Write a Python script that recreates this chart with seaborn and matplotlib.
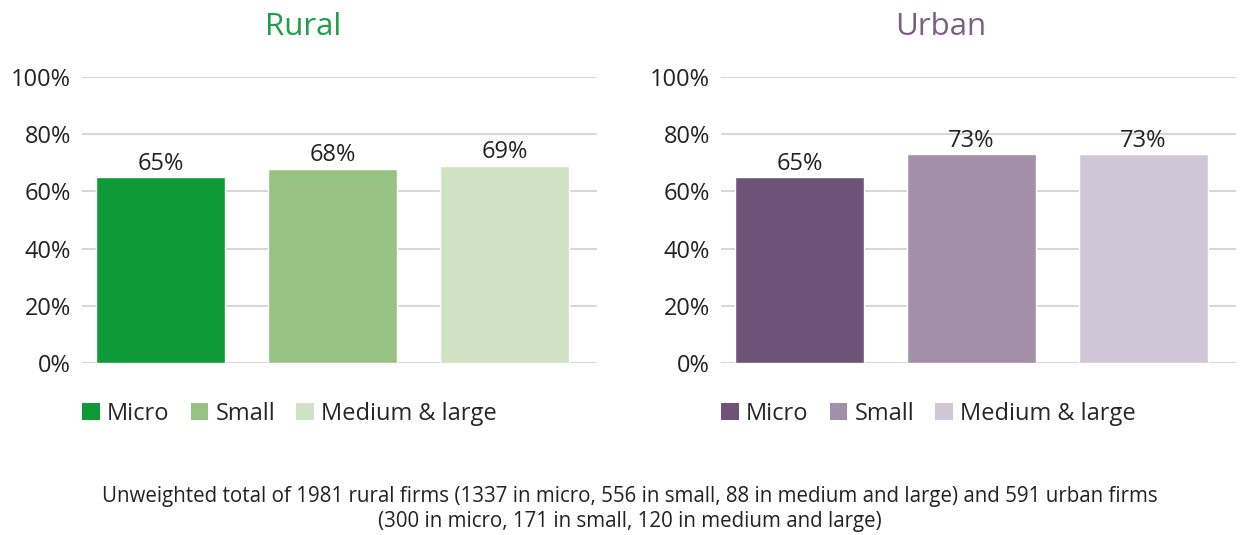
import matplotlib
matplotlib.use("Agg")
import matplotlib.pyplot as plt
import seaborn as sns
import pandas as pd
from matplotlib.patches import Patch

categories = ["Micro", "Small", "Medium & large"]
rural_values = [65, 68, 69]
urban_values = [65, 73, 73]
rural_colors = ["#0E9A37", "#96C384", "#CFE2C3"]
urban_colors = ["#6F5277", "#A48FA8", "#D1C6D5"]
yticks = [0, 20, 40, 60, 80, 100]
footnote = ("Unweighted total of 1981 rural firms (1337 in micro, 556 in small, 88 in medium and large) and 591 urban firms\n"
            "(300 in micro, 171 in small, 120 in medium and large)")

sns.set_theme(style="white")
plt.rcParams["font.family"] = ["Open Sans", "DejaVu Sans"]

fig = plt.figure(figsize=(12.49, 5.35), dpi=100)
W, H = 1249, 535

def make_axes(x0, x1):
    return fig.add_axes([x0 / W, (H - 363) / H, (x1 - x0) / W, (363 - 77) / H])

panels = [
    ("Rural", "#1CA04A", 303, rural_values, rural_colors, make_axes(82, 597)),
    ("Urban", "#7A5F83", 941, urban_values, urban_colors, make_axes(721, 1236)),
]

for title, tcolor, tx, vals, cols, ax in panels:
    df = pd.DataFrame({"cat": categories, "val": vals})
    sns.barplot(data=df, x="cat", y="val", hue="cat", palette=cols, width=0.75,
                dodge=False, legend=False, ax=ax, saturation=1)
    ax.set_ylim(0, 100)
    ax.set_xlim(-0.456, 2.538)
    ax.set_yticks(yticks)
    ax.set_yticklabels([f"{t}%" for t in yticks], fontsize=17, color="#222222")
    ax.tick_params(axis="y", length=0, pad=8)
    ax.set_xticks([])
    ax.set_xlabel("")
    ax.set_ylabel("")
    for s in ax.spines.values():
        s.set_visible(False)
    ax.grid(axis="y", color="#D0D0D0", linewidth=1.2)
    ax.set_axisbelow(True)
    for cont in ax.containers:
        ax.bar_label(cont, labels=[f"{v:.0f}%" for v in cont.datavalues],
                     padding=1, fontsize=17, color="#222222")
    fig.text(tx / W, 1 - 27 / H, title, color=tcolor, fontsize=22.5,
             ha="center", va="center")
    handles = [Patch(facecolor=c, edgecolor="none") for c in cols]
    ax.legend(handles, categories, ncol=3, frameon=False, fontsize=17,
              loc="upper left", bbox_to_anchor=(0.0, -0.135),
              handlelength=0.75, handleheight=0.75, handletextpad=0.3,
              columnspacing=0.9, borderaxespad=0, borderpad=0)

fig.text(630 / W, 1 - 509 / H, footnote, ha="center", va="center",
         fontsize=14.8, color="#222222", linespacing=1.2)

fig.savefig("out.png", dpi=100)
